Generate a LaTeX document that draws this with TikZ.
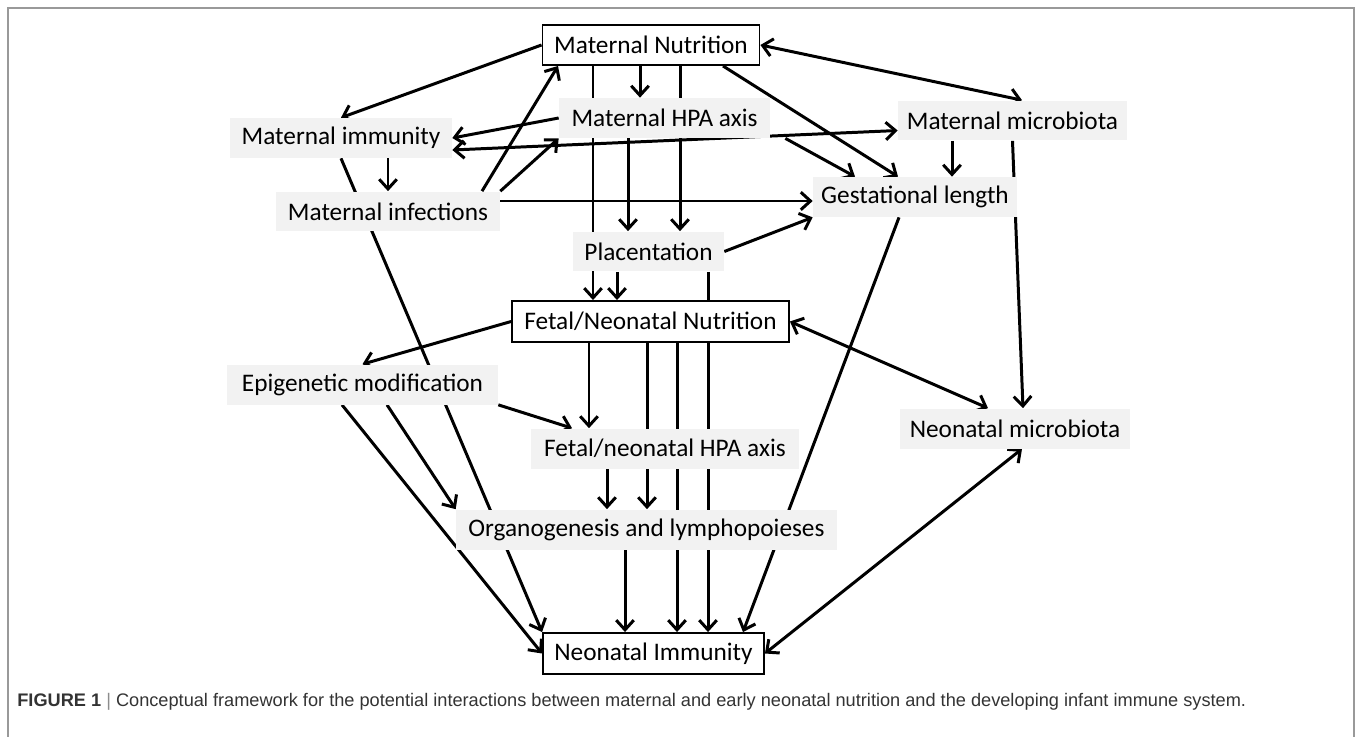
\documentclass[tikz,border=0pt]{standalone}
\usepackage{fontspec}
\setmainfont{Carlito}
\newfontfamily\capfont{Liberation Sans}
\usetikzlibrary{arrows.meta,backgrounds}
\tikzset{>={Straight Barb[length=5.5pt,width=10pt]}}
\colorlet{mylightgray}{gray!10}
\colorlet{myframe}{black!40}

\begin{document}
\begin{tikzpicture}[x=0.02cm,y=-0.02cm,
    nbox/.style={draw=black,line width=1.1pt,fill=white,minimum height=0.8cm,inner sep=0pt,font=\fontsize{14.4}{17}\selectfont},
    gbox/.style={fill=mylightgray,minimum height=0.8cm,inner sep=0pt,font=\fontsize{14.4}{17}\selectfont},
    link/.style={->,line width=1.7pt},
    both/.style={<->,line width=1.7pt}]

        \useasboundingbox (0,0) rectangle (1356,737);

        % FRAME
        \draw[myframe,line width=0.8pt] (8,760) -- (8,8) -- (1354,8) -- (1354,760);

        % NODES
        \node[nbox,minimum width=4.34cm] (MN) at (651,45) {Maternal Nutrition};
        \node[gbox,minimum width=4.22cm] (HPA) at (664.5,118) {Maternal HPA axis};
        \node[gbox,minimum width=4.44cm] (MI) at (341,138) {Maternal immunity};
        \node[gbox,minimum width=4.48cm] (MInf) at (388,211.5) {Maternal infections};
        \node[gbox,minimum width=4.58cm] (MMB) at (1012.5,120.5) {Maternal microbiota};
        \node[gbox,minimum width=4.08cm] (GL) at (915,197) {Gestational length};
        \node[gbox,minimum width=3.02cm] (PL) at (648.5,251.5) {Placentation};
        \node[nbox,minimum width=5.54cm,minimum height=0.82cm] (FNN) at (650.5,321.5) {Fetal/Neonatal Nutrition};
        \node[gbox,minimum width=5.42cm] (EM) at (362.5,384.5) {Epigenetic modification};
        \node[gbox,minimum width=5.36cm] (FHPA) at (665,448.5) {Fetal/neonatal HPA axis};
        \node[gbox,minimum width=4.6cm] (NMB) at (1015,428.5) {Neonatal microbiota};
        \node[gbox,minimum width=7.62cm] (ORG) at (646.5,529.5) {Organogenesis and lymphopoieses};
        \node[nbox,minimum width=4.42cm,minimum height=0.82cm] (NI) at (653.5,653.5) {Neonatal Immunity};

        % CAPTION
        \node[anchor=west,inner sep=0pt,text=black!80,font=\capfont\fontsize{10.35}{12}\selectfont] (cap) at (17,702)
            {\textbf{FIGURE 1} {\color{black!45}|} Conceptual framework for the potential interactions between maternal and early neonatal nutrition and the developing infant immune system.};

        % ARROWS
        \begin{scope}[on background layer]
        % maternal nutrition
        \draw[link] (MN.west) -- (MI.north);
        \draw[link] (MN.south -| 640,0) -- (HPA.north -| 640,0);
        \draw[link] (MN.south -| 593,0) -- (FNN.north -| 593,0);
        \draw[link] (MN.south -| 680,0) -- (PL.north -| 680,0);
        \draw[link] (MN.south -| 723,0) -- (GL.north -| 898,0);
        \draw[both] (MN.east) -- (MMB.north -| 1022,0);
        % maternal HPA axis
        \draw[link] (HPA.west) -- (MI.east);
        \draw[link] (HPA.south -| 628,0) -- (PL.north -| 628,0);
        \draw[link] ([xshift=0.3cm]HPA.south east) -- (GL.north -| 855,0);
        % maternal immunity
        \draw[both] ([yshift=-0.24cm]MI.east) -- ([yshift=-0.2cm]MMB.west);
        \draw[link] (MI.south -| 388,0) -- (MInf.north -| 388,0);
        \draw[link] (MI.south) -- (NI.north west);
        % maternal infections
        \draw[link] (MInf.north -| 482,0) -- (MN.south -| 558,0);
        \draw[link] (MInf.north east) -- (HPA.south west);
        \draw[link] (MInf.east |- 0,201) -- (GL.west |- 0,201);
        % maternal microbiota
        \draw[link] (MMB.south -| 952,0) -- (GL.north -| 952,0);
        \draw[link] (MMB.south) -- (NMB.north -| 1023,0);
        % gestational length, placentation
        \draw[link] (GL.south -| 899,0) -- (NI.north -| 743,0);
        \draw[link] (PL.east) -- (GL.south west);
        \draw[link] (PL.south -| 617,0) -- (FNN.north -| 617,0);
        \draw[link] (PL.south -| 708,0) -- (NI.north -| 708,0);
        % fetal/neonatal nutrition
        \draw[link] (FNN.west) -- (EM.north);
        \draw[both] (FNN.east) -- (NMB.north -| 988,0);
        \draw[link] (FNN.south -| 589,0) -- (FHPA.north -| 589,0);
        \draw[link] (FNN.south -| 647,0) -- (ORG.north -| 647,0);
        \draw[link] (FNN.south -| 677,0) -- (NI.north -| 677,0);
        \draw[link] (FHPA.south -| 607,0) -- (ORG.north -| 607,0);
        \draw[link] (ORG.south -| 625,0) -- (NI.north -| 625,0);
        % epigenetic modification
        \draw[link] (EM.south east) -- (FHPA.north -| 572,0);
        \draw[link] (EM.south -| 387,0) -- (ORG.north west);
        \draw[link] (EM.south -| 342,0) -- (NI.west);
        % neonatal microbiota
        \draw[both] (NMB.south -| 1022,0) -- (NI.east);
        \end{scope}

    \end{tikzpicture}
\end{document}
